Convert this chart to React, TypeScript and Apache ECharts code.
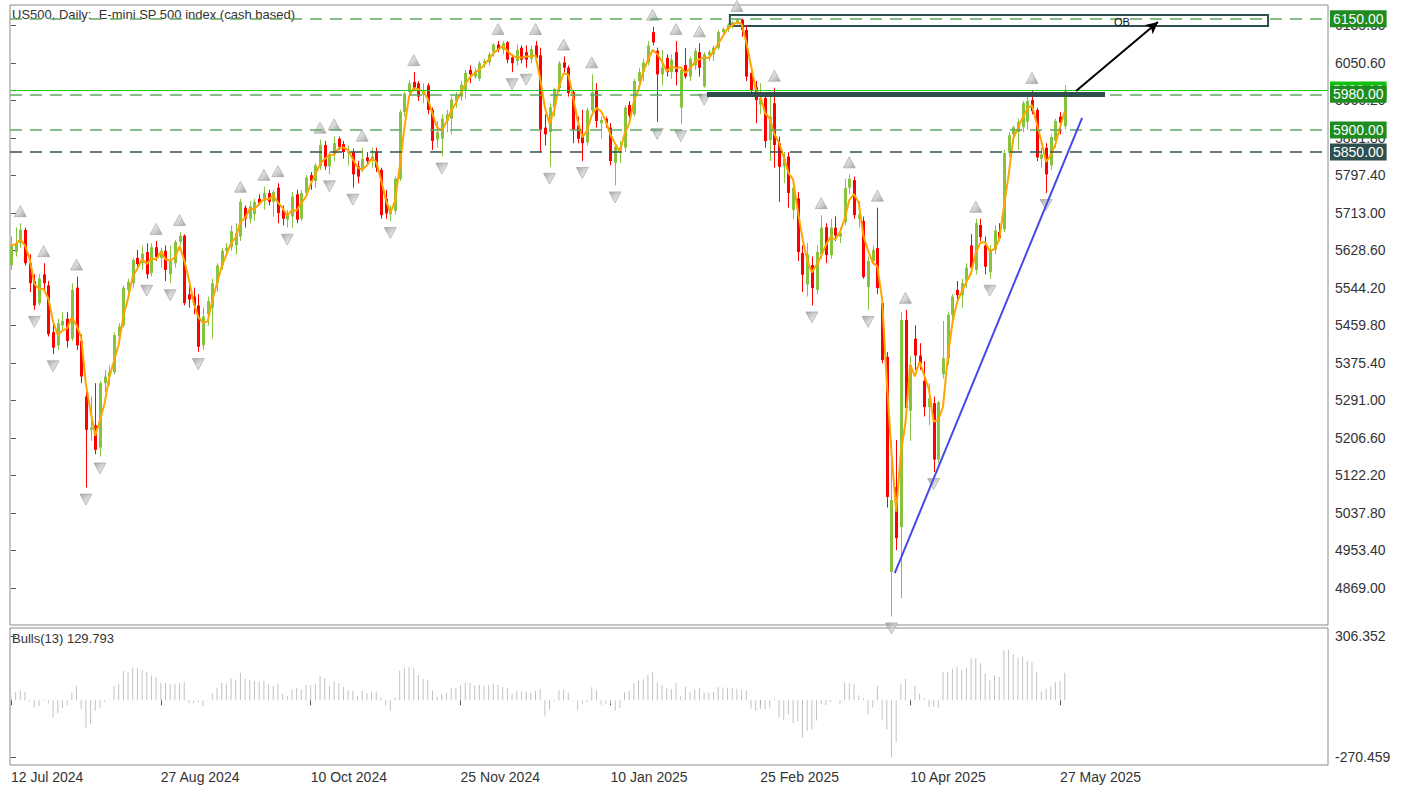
import React, { useEffect, useRef } from "react";
import * as echarts from "echarts";

const FONT = '"Liberation Sans", Arial, sans-serif';

// ---- Data (daily bars, index 0 = 12 Jul 2024) ----
const opens = [
  5595, 5625, 5645, 5675, 5600, 5560, 5510, 5575, 5550, 5445,
  5415, 5460, 5475, 5430, 5545, 5425, 5300, 5225, 5235, 5185,
  5330, 5345, 5355, 5435, 5460, 5540, 5555, 5612, 5600, 5625,
  5578, 5636, 5612, 5628, 5575, 5600, 5648, 5662, 5530, 5525,
  5505, 5415, 5485, 5500, 5555, 5595, 5628, 5636, 5640, 5660,
  5725, 5700, 5710, 5745, 5740, 5758, 5738, 5770, 5720, 5698,
  5705, 5755, 5700, 5758, 5798, 5785, 5818, 5866, 5818, 5845,
  5880, 5868, 5848, 5850, 5818, 5812, 5838, 5830, 5850, 5810,
  5745, 5710, 5718, 5790, 5940, 5985, 6008, 6005, 5980, 6000,
  5945, 5878, 5880, 5920, 5925, 5965, 5975, 5990, 6035, 6020,
  6015, 6050, 6052, 6075, 6092, 6080, 6097, 6063, 6055, 6085,
  6075, 6060, 6090, 6068, 5905, 5895, 5951, 5994, 6052, 6040,
  5985, 5910, 5890, 5872, 5944, 5990, 5915, 5925, 5905, 5826,
  5855, 5860, 5956, 5935, 6010, 6030, 6052, 6120, 6078, 6025,
  6062, 6030, 6075, 5950, 6046, 6020, 6045, 6075, 5998, 6068,
  6070, 6085, 6120, 6127, 6135, 6140, 6148, 6125, 6028, 5996,
  5957, 5972, 5877, 5960, 5870, 5818, 5840, 5720, 5746, 5623,
  5552, 5596, 5540, 5620, 5681, 5618, 5680, 5660, 5692, 5770,
  5787, 5700, 5695, 5546, 5605, 5634, 5510, 5389, 4905, 5096,
  5006, 5472, 5268, 5430, 5392, 5335, 5276, 5285, 5158, 5350,
  5386, 5484, 5540, 5528, 5560, 5640, 5585, 5686, 5640, 5580,
  5630, 5670, 5676, 5848, 5890, 5895, 5906, 5918, 5967, 5945,
  5835, 5860, 5820, 5876, 5930, 5908,
];
const highs = [
  5660, 5680, 5690, 5680, 5620, 5575, 5575, 5600, 5560, 5470,
  5475, 5490, 5490, 5555, 5570, 5440, 5310, 5300, 5330, 5335,
  5360, 5370, 5445, 5465, 5550, 5565, 5612, 5630, 5640, 5645,
  5645, 5650, 5635, 5640, 5640, 5652, 5670, 5665, 5555, 5545,
  5530, 5500, 5525, 5565, 5600, 5635, 5645, 5685, 5690, 5745,
  5730, 5740, 5745, 5755, 5772, 5765, 5765, 5780, 5730, 5720,
  5760, 5765, 5765, 5798, 5805, 5825, 5878, 5875, 5850, 5885,
  5885, 5875, 5865, 5858, 5830, 5860, 5850, 5860, 5860, 5815,
  5765, 5730, 5795, 5945, 5985, 6012, 6030, 6010, 6005, 6005,
  5950, 5920, 5935, 5945, 5975, 5985, 6010, 6035, 6045, 6040,
  6055, 6060, 6075, 6095, 6100, 6100, 6100, 6070, 6092, 6090,
  6090, 6090, 6100, 6085, 5935, 5960, 5995, 6055, 6065, 6045,
  5990, 5930, 5945, 5950, 6025, 6005, 5930, 5930, 5915, 5870,
  5875, 5955, 5965, 6015, 6040, 6060, 6100, 6132, 6085, 6080,
  6070, 6070, 6100, 6040, 6084, 6065, 6085, 6095, 6075, 6080,
  6090, 6125, 6130, 6140, 6145, 6152, 6150, 6135, 6035, 6010,
  6005, 5980, 5975, 5995, 5885, 5850, 5850, 5790, 5760, 5640,
  5645, 5615, 5640, 5708, 5690, 5700, 5705, 5680, 5790, 5800,
  5795, 5740, 5705, 5615, 5640, 5725, 5520, 5400, 5200, 5202,
  5490, 5495, 5390, 5460, 5420, 5380, 5330, 5300, 5290, 5470,
  5490, 5530, 5560, 5565, 5600, 5665, 5700, 5700, 5660, 5640,
  5685, 5690, 5855, 5895, 5910, 5925, 5965, 5975, 5990, 5950,
  5860, 5870, 5890, 5925, 5940, 6001,
];
const lows = [
  5585, 5615, 5635, 5595, 5535, 5495, 5505, 5540, 5435, 5395,
  5405, 5450, 5410, 5425, 5405, 5330, 5095, 5200, 5170, 5165,
  5310, 5325, 5350, 5420, 5455, 5525, 5545, 5590, 5585, 5565,
  5570, 5605, 5590, 5560, 5555, 5590, 5640, 5505, 5500, 5485,
  5400, 5405, 5460, 5430, 5535, 5585, 5615, 5628, 5620, 5650,
  5680, 5690, 5695, 5730, 5720, 5730, 5705, 5690, 5685, 5680,
  5680, 5690, 5695, 5750, 5765, 5770, 5810, 5810, 5800, 5830,
  5855, 5835, 5820, 5770, 5780, 5805, 5820, 5815, 5805, 5700,
  5700, 5695, 5710, 5785, 5930, 5975, 5990, 5965, 5960, 5935,
  5855, 5860, 5840, 5895, 5890, 5950, 5965, 5970, 6005, 6015,
  6010, 6040, 6045, 6065, 6075, 6070, 6050, 6030, 6045, 6050,
  6040, 6050, 6050, 5850, 5865, 5817, 5930, 5985, 6030, 5975,
  5870, 5870, 5830, 5865, 5940, 5905, 5880, 5905, 5820, 5775,
  5825, 5850, 5925, 5930, 5995, 6010, 6045, 6090, 5918, 6000,
  6020, 6015, 6000, 5913, 6015, 6010, 6035, 6020, 5995, 6055,
  6055, 6080, 6115, 6120, 6128, 6135, 6110, 6010, 5980, 5915,
  5935, 5860, 5830, 5815, 5738, 5780, 5725, 5700, 5605, 5535,
  5525, 5505, 5530, 5610, 5600, 5610, 5650, 5645, 5685, 5755,
  5700, 5680, 5565, 5495, 5595, 5530, 5375, 5050, 4805, 4954,
  4846, 5250, 5200, 5360, 5360, 5255, 5235, 5130, 5150, 5340,
  5370, 5460, 5510, 5500, 5545, 5575, 5575, 5650, 5575, 5565,
  5620, 5650, 5670, 5840, 5870, 5855, 5895, 5900, 5935, 5830,
  5815, 5758, 5810, 5860, 5890, 5900,
];
const closes = [
  5640, 5645, 5675, 5600, 5555, 5505, 5565, 5555, 5440, 5410,
  5465, 5470, 5425, 5540, 5415, 5345, 5225, 5230, 5180, 5330,
  5345, 5355, 5438, 5458, 5545, 5558, 5607, 5598, 5622, 5575,
  5636, 5614, 5628, 5585, 5605, 5648, 5662, 5510, 5518, 5505,
  5412, 5480, 5515, 5555, 5595, 5628, 5635, 5672, 5668, 5738,
  5700, 5728, 5738, 5735, 5758, 5738, 5760, 5713, 5700, 5708,
  5750, 5698, 5758, 5793, 5785, 5820, 5866, 5818, 5845, 5870,
  5862, 5850, 5852, 5800, 5795, 5835, 5830, 5840, 5815, 5708,
  5712, 5718, 5790, 5940, 5982, 6005, 5995, 5975, 5990, 5945,
  5875, 5895, 5925, 5935, 5968, 5978, 6002, 6028, 6025, 6032,
  6050, 6055, 6070, 6092, 6080, 6095, 6058, 6050, 6080, 6058,
  6058, 6082, 6062, 5900, 5890, 5951, 5992, 6050, 6040, 5983,
  5900, 5880, 5870, 5944, 5985, 5920, 5922, 5915, 5830, 5862,
  5860, 5950, 5932, 6010, 6030, 6052, 6090, 6097, 6025, 6040,
  6030, 6058, 6030, 6035, 6020, 6060, 6078, 6040, 6070, 6075,
  6085, 6120, 6127, 6137, 6142, 6148, 6125, 6020, 5990, 5967,
  5972, 5875, 5930, 5866, 5817, 5835, 5758, 5770, 5625, 5574,
  5620, 5544, 5625, 5680, 5618, 5680, 5662, 5668, 5769, 5790,
  5708, 5710, 5569, 5605, 5630, 5544, 5382, 5074, 5067, 4981,
  5472, 5274, 5370, 5392, 5374, 5276, 5296, 5158, 5287, 5386,
  5484, 5525, 5528, 5555, 5590, 5590, 5690, 5659, 5592, 5630,
  5674, 5656, 5848, 5888, 5906, 5918, 5960, 5965, 5942, 5838,
  5845, 5800, 5884, 5920, 5916, 5990,
];

// x-axis ticks (bar index) and their date labels
const dateTickIndex = [0, 32, 64, 96, 128, 160, 192, 224];
const dateTickLabels = [
  "12 Jul 2024", "27 Aug 2024", "10 Oct 2024", "25 Nov 2024",
  "10 Jan 2025", "25 Feb 2025", "10 Apr 2025", "27 May 2025",
];
// price-scale tick labels
const priceTicks = [
  4869.0, 4953.4, 5037.8, 5122.2, 5206.6, 5291.0, 5375.4, 5459.8,
  5544.2, 5628.6, 5713.0, 5797.4, 5881.8, 5966.2, 6050.6, 6135.0,
];
const bullsTicks = [306.352, -270.459];
const titleText = "US500, Daily:  E-mini SP 500 index (cash based)";
const bullsText = "Bulls(13) 129.793";

// horizontal levels drawn on the chart
const levelOB = 6150;
const levelBid = 5990;
const levelRes = 5980;
const level5900 = 5900;
const level5850 = 5850;

// drawn objects (bar index, price)
const resSegment = [[148.6, 5980], [233.6, 5980]];
const obBox = [[153.5, 6158.6], [268.4, 6133.9]];
const obLabel = [237.2, 6143];
const arrowLine = [[227.4, 5987.6], [244.9, 6142.9]];
const trendLine = [[188.7, 4902.7], [228.7, 5926.8]];

const MA_PERIOD = 3;
const BULLS_PERIOD = 13;

function buildOption() {
  const n = closes.length;
  const candleData = closes.map((c, i) => [i, opens[i], c, lows[i], highs[i]]);

  const maData = closes.map((_, i) => {
    const s = Math.max(0, i - MA_PERIOD + 1);
    let sum = 0;
    for (let k = s; k <= i; k++) sum += closes[k];
    return [i, sum / (i - s + 1)];
  });

  const alpha = 2 / (BULLS_PERIOD + 1);
  let ema = closes[0];
  const bullsData = closes.map((c, i) => {
    if (i > 0) ema = ema + alpha * (c - ema);
    return [i, highs[i] - ema];
  });

  const upFr: number[][] = [];
  const dnFr: number[][] = [];
  for (let i = 2; i < n - 2; i++) {
    if (highs[i] > highs[i - 1] && highs[i] > highs[i - 2] && highs[i] >= highs[i + 1] && highs[i] >= highs[i + 2])
      upFr.push([i, highs[i]]);
    if (lows[i] < lows[i - 1] && lows[i] < lows[i - 2] && lows[i] <= lows[i + 1] && lows[i] <= lows[i + 2])
      dnFr.push([i, lows[i]]);
  }

  const boxLabel = (text: string, bg: string) => ({
    show: true,
    position: "end",
    distance: 2,
    formatter: text,
    color: "#ffffff",
    backgroundColor: bg,
    padding: [2, 3, 1, 3],
    fontSize: 14,
    fontFamily: FONT,
  });
  const dashGreen = { color: "#62a862", type: [12, 8], width: 1.5 };

  const fractalStyle = {
    color: new echarts.graphic.LinearGradient(0, 0, 1, 1, [
      { offset: 0, color: "#f2f2f2" },
      { offset: 0.55, color: "#c8c8c8" },
      { offset: 1, color: "#8e8e8e" },
    ]),
    borderColor: "#a0a0a0",
    borderWidth: 0.8,
  };

  const X_MIN = -0.2;
  const X_MAX = 281.2;

  return {
    animation: false,
    backgroundColor: "#ffffff",
    textStyle: { fontFamily: FONT },
    grid: [
      { left: 10, top: 5, width: 1318, height: 620, show: true, borderColor: "#8a8a8a", borderWidth: 1, backgroundColor: "#ffffff" },
      { left: 10, top: 628, width: 1318, height: 137, show: true, borderColor: "#8a8a8a", borderWidth: 1, backgroundColor: "#ffffff" },
    ],
    xAxis: [
      { type: "value", gridIndex: 0, min: X_MIN, max: X_MAX, show: false },
      {
        type: "value", gridIndex: 1, min: X_MIN, max: X_MAX,
        axisLine: { show: false },
        splitLine: { show: false },
        axisTick: { show: true, length: 5, customValues: dateTickIndex, lineStyle: { color: "#555" } },
        axisLabel: {
          show: true,
          customValues: dateTickIndex,
          align: "left",
          margin: 5,
          fontSize: 14,
          color: "#333",
          fontFamily: FONT,
          formatter: (v: number) => {
            const k = dateTickIndex.indexOf(Math.round(v));
            return k >= 0 ? dateTickLabels[k] : "";
          },
        },
      },
    ],
    yAxis: [
      {
        type: "value", gridIndex: 0, position: "right", min: 4785.7, max: 6181.1,
        axisLine: { show: false },
        splitLine: { show: false },
        axisTick: { show: true, length: 5, customValues: priceTicks, lineStyle: { color: "#555" } },
        axisLabel: {
          show: true, customValues: priceTicks, margin: 7, fontSize: 14, color: "#333", fontFamily: FONT,
          formatter: (v: number) => v.toFixed(2),
        },
      },
      {
        type: "value", gridIndex: 1, position: "right", min: -308.6, max: 344.5,
        axisLine: { show: false },
        splitLine: { show: false },
        axisTick: { show: true, length: 5, customValues: bullsTicks, lineStyle: { color: "#555" } },
        axisLabel: {
          show: true, customValues: bullsTicks, margin: 7, fontSize: 14, color: "#333", fontFamily: FONT,
          formatter: (v: number) => v.toFixed(3),
        },
      },
    ],
    graphic: [
      { type: "text", left: 12, top: 8, style: { text: titleText, fontSize: 13, fill: "#333", fontFamily: FONT } },
      { type: "text", left: 12, top: 632, style: { text: bullsText, fontSize: 13, fill: "#333", fontFamily: FONT } },
    ],
    series: [
      {
        type: "custom",
        name: "candles",
        xAxisIndex: 0,
        yAxisIndex: 0,
        data: candleData,
        encode: { x: 0, y: [1, 2, 3, 4] },
        z: 2,
        silent: true,
        renderItem: (_params: any, api: any) => {
          const x = api.value(0);
          const o = api.value(1);
          const c = api.value(2);
          const l = api.value(3);
          const h = api.value(4);
          const pO = api.coord([x, o]);
          const pC = api.coord([x, c]);
          const pL = api.coord([x, l]);
          const pH = api.coord([x, h]);
          const color = c >= o ? "#86c440" : "#ff0000";
          const bw = 3;
          const top = Math.min(pO[1], pC[1]);
          const hh = Math.max(1, Math.abs(pO[1] - pC[1]));
          const cx = Math.round(pO[0]) + 0.5;
          return {
            type: "group",
            children: [
              { type: "line", shape: { x1: cx, y1: pH[1], x2: cx, y2: pL[1] }, style: { stroke: color, lineWidth: 1 } },
              { type: "rect", shape: { x: cx - bw / 2, y: top, width: bw, height: hh }, style: { fill: color } },
            ],
          };
        },
      },
      {
        type: "line",
        name: "MA",
        xAxisIndex: 0,
        yAxisIndex: 0,
        data: maData,
        showSymbol: false,
        symbol: "none",
        z: 3,
        silent: true,
        lineStyle: { color: "#ffa500", width: 2 },
        markLine: {
          silent: true,
          symbol: ["none", "none"],
          animation: false,
          label: { show: false },
          emphasis: { disabled: true },
          data: [
            { yAxis: levelOB, lineStyle: dashGreen, label: boxLabel("6150.00", "#1f8c22") },
            { yAxis: levelBid, lineStyle: { color: "#1fcc1f", type: "solid", width: 1 }, label: boxLabel("5990.10", "#11c011") },
            { yAxis: levelRes, lineStyle: dashGreen, label: boxLabel("5980.00", "#1f8c22") },
            { yAxis: level5900, lineStyle: dashGreen, label: boxLabel("5900.00", "#1f8c22") },
            { yAxis: level5850, lineStyle: { color: "#2f4f4f", type: [12, 8], width: 1.5 }, label: boxLabel("5850.00", "#2f4f4f") },
            [
              { coord: resSegment[0], lineStyle: { color: "#2f4f4f", width: 5, type: "solid" } },
              { coord: resSegment[1] },
            ],
            [
              { coord: trendLine[0], lineStyle: { color: "#4848e8", width: 2, type: "solid" } },
              { coord: trendLine[1] },
            ],
            [
              { coord: arrowLine[0], symbol: "none", lineStyle: { color: "#000000", width: 2, type: "solid" } },
              { coord: arrowLine[1], symbol: "arrow", symbolSize: [9, 12] },
            ],
          ],
        },
        markArea: {
          silent: true,
          itemStyle: { color: "rgba(0,0,0,0)", borderColor: "#2f4f4f", borderWidth: 2 },
          label: { show: false },
          data: [[{ coord: obBox[0] }, { coord: obBox[1] }]],
        },
        markPoint: {
          silent: true,
          symbol: "rect",
          symbolSize: 1,
          itemStyle: { color: "rgba(0,0,0,0)" },
          data: [
            {
              coord: obLabel,
              label: { show: true, position: "inside", formatter: "OB", color: "#111", fontSize: 11, fontFamily: FONT },
            },
          ],
        },
      },
      {
        type: "scatter",
        name: "fractalUp",
        xAxisIndex: 0,
        yAxisIndex: 0,
        data: upFr,
        symbol: "triangle",
        symbolSize: [12, 11],
        symbolOffset: [0, -12],
        z: 4,
        silent: true,
        itemStyle: fractalStyle,
      },
      {
        type: "scatter",
        name: "fractalDown",
        xAxisIndex: 0,
        yAxisIndex: 0,
        data: dnFr,
        symbol: "triangle",
        symbolRotate: 180,
        symbolSize: [12, 11],
        symbolOffset: [0, 12],
        z: 4,
        silent: true,
        itemStyle: fractalStyle,
      },
      {
        type: "bar",
        name: "Bulls",
        xAxisIndex: 1,
        yAxisIndex: 1,
        data: bullsData,
        barWidth: 1,
        silent: true,
        itemStyle: { color: "#c2c2c2" },
      },
    ],
  };
}

export default function App() {
  const ref = useRef<HTMLDivElement>(null);
  useEffect(() => {
    document.body.style.margin = "0";
    const chart = echarts.init(ref.current as HTMLDivElement, null, { renderer: "svg" });
    chart.setOption(buildOption() as any);
    return () => chart.dispose();
  }, []);
  return <div ref={ref} style={{ width: 1425, height: 792 }} />;
}
